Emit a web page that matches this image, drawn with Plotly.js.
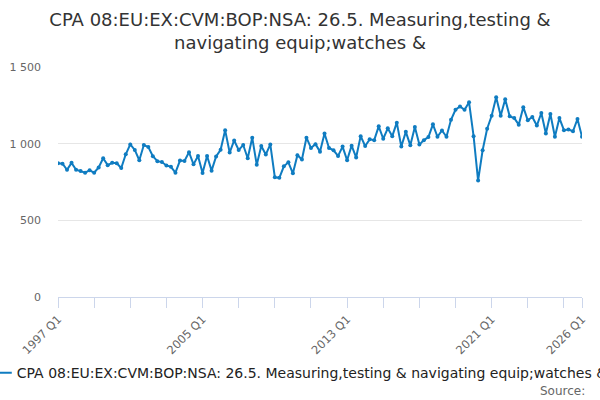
<!DOCTYPE html>
<html>
<head>
<meta charset="utf-8">
<script src="https://cdn.plot.ly/plotly-3.0.1.min.js"></script>
<style>html,body{margin:0;padding:0;background:#fff;}#chart{width:600px;height:400px;}</style>
</head>
<body>
<div id="chart"></div>
<script>
var startYear = 1997;
var endYear = 2026;
var seriesName = "CPA 08:EU:EX:CVM:BOP:NSA: 26.5. Measuring,testing & navigating equip;watches &";
var values = [
  873, 869, 830, 875, 830, 822, 811, 826, 811, 845,
  905, 860, 875, 872, 841, 931, 995, 959, 892, 991,
  978, 918, 886, 880, 858, 849, 811, 890, 887, 944,
  865, 920, 809, 920, 824, 916, 960, 1088, 942, 1021,
  959, 991, 905, 1039, 862, 985, 929, 995, 781, 777,
  852, 878, 807, 925, 897, 1039, 972, 997, 948, 1066,
  972, 957, 920, 981, 892, 987, 910, 1049, 985, 1028,
  1023, 1113, 1032, 1100, 1049, 1137, 981, 1077, 989, 1109,
  994, 1023, 1043, 1126, 1045, 1086, 1045, 1156, 1221, 1242,
  1221, 1270, 1049, 759, 957, 1097, 1182, 1303, 1182, 1290,
  1178, 1167, 1124, 1238, 1152, 1174, 1118, 1200, 1066, 1193,
  1045, 1167, 1088, 1092, 1081, 1161, 1045
];
var labeledQuarters = ["1997 Q1", "2005 Q1", "2013 Q1", "2021 Q1", "2026 Q1"];
var yTickVals = [0, 500, 1000, 1500];

// category labels (quarters)
var quarters = [];
for (var y = startYear; y <= endYear; y++) {
  for (var q = 1; q <= 4; q++) {
    if (quarters.length < values.length) quarters.push(y + " Q" + q);
  }
}
var idx = quarters.map(function (_, i) { return i; });

// ticks every 8 quarters plus the last category
var tickVals = [], tickText = [];
for (var i = 0; i <= quarters.length - 5; i += 8) {
  tickVals.push(i);
  tickText.push(labeledQuarters.indexOf(quarters[i]) >= 0 ? quarters[i] : "");
}
tickVals.push(quarters.length - 1);
tickText.push(quarters[quarters.length - 1]);

var trace = {
  x: idx,
  y: values,
  text: quarters,
  type: "scatter",
  mode: "lines+markers",
  name: seriesName.replace(/&/g, "&amp;"),
  line: { color: "#0f7cc1", width: 2 },
  marker: { color: "#0f7cc1", size: 4 },
  hovertemplate: "%{text}: %{y}<extra></extra>"
};

var layout = {
  width: 600,
  height: 400,
  paper_bgcolor: "#fff",
  plot_bgcolor: "#fff",
  separators: ". ",
  font: { family: "DejaVu Sans, sans-serif", color: "#333" },
  title: {
    text: "CPA 08:EU:EX:CVM:BOP:NSA: 26.5. Measuring,testing &amp;<br>navigating equip;watches &amp;",
    font: { size: 18, color: "#333", family: "DejaVu Sans, sans-serif" },
    x: 0.5, xanchor: "center",
    y: 0.935, yanchor: "top"
  },
  margin: { l: 58, r: 18, t: 67, b: 103, autoexpand: false },
  xaxis: {
    range: [0, quarters.length - 1],
    tickmode: "array",
    tickvals: tickVals,
    ticktext: tickText,
    tickangle: -45,
    ticks: "outside",
    ticklen: 10,
    tickcolor: "#ccd6eb",
    tickwidth: 1,
    showline: true,
    linecolor: "#ccd6eb",
    linewidth: 1,
    showgrid: false,
    zeroline: false,
    automargin: false,
    tickfont: { size: 11.5, color: "#666" }
  },
  yaxis: {
    range: [0, 1500],
    tickmode: "array",
    tickvals: yTickVals,
    tickformat: ",d",
    showgrid: true,
    gridcolor: "#e6e6e6",
    zeroline: false,
    showline: false,
    ticks: "",
    automargin: false,
    ticklabelstandoff: 16,
    tickfont: { size: 11, color: "#666" }
  },
  showlegend: true,
  legend: {
    orientation: "h",
    x: -0.155, xanchor: "left",
    y: -0.261, yanchor: "top",
    font: { size: 14, color: "#222" },
    bgcolor: "rgba(0,0,0,0)"
  },
  annotations: [{
    text: "Source:",
    xref: "paper", yref: "paper",
    x: 1.01, xanchor: "right",
    y: -0.37, yanchor: "top",
    showarrow: false,
    font: { size: 12, color: "#666" }
  }]
};

Plotly.newPlot("chart", [trace], layout, { displayModeBar: false, staticPlot: true });
</script>
</body>
</html>
